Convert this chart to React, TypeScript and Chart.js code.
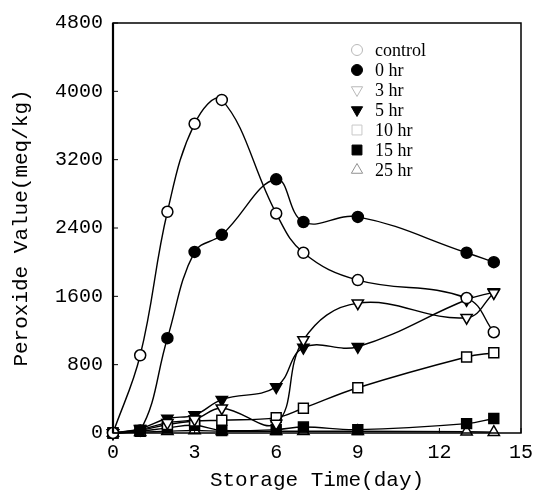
import React, { useEffect, useRef } from 'react';
import { Chart, registerables } from 'chart.js';
import { drawPoint } from 'chart.js/helpers';

Chart.register(...registerables);

// ---- data ----
const days = [0, 1, 2, 3, 4, 6, 7, 9, 13, 14];
const control = [0, 910, 2590, 3620, 3900, 2570, 2110, 1790, 1580, 1180];
const hr0 = [0, 30, 1110, 2120, 2320, 2970, 2470, 2530, 2110, 2000];
const hr3 = [0, 40, 120, 160, 290, 110, 1090, 1520, 1350, 1640];
const hr5 = [0, 50, 170, 210, 390, 540, 1000, 1010, 1560, 1650];
const hr10 = [0, 30, 100, 140, 150, 180, 290, 530, 890, 940];
const hr15 = [0, 20, 60, 90, 30, 40, 70, 40, 110, 170];
const hr25 = [0, 10, 20, 30, 20, 20, 20, 20, 15, 10];

const seriesNames = ['control', '0 hr', '3 hr', '5 hr', '10 hr', '15 hr', '25 hr'];
const xTicks = [0, 3, 6, 9, 12, 15];
const yTicks = [0, 800, 1600, 2400, 3200, 4000, 4800];
const xTitle = 'Storage Time(day)';
const yTitle = 'Peroxide Value(meq/kg)';

const seriesValues = [control, hr0, hr3, hr5, hr10, hr15, hr25];

type Style = { pointStyle: string; rotation: number; fill: string; radius: number; legendStroke: string };
const styles: Style[] = [
  { pointStyle: 'circle', rotation: 0, fill: '#ffffff', radius: 5.5, legendStroke: '#b8b8b8' },
  { pointStyle: 'circle', rotation: 0, fill: '#000000', radius: 5.5, legendStroke: '#000000' },
  { pointStyle: 'triangle', rotation: 180, fill: '#ffffff', radius: 6.5, legendStroke: '#b8b8b8' },
  { pointStyle: 'triangle', rotation: 180, fill: '#000000', radius: 6.5, legendStroke: '#000000' },
  { pointStyle: 'rect', rotation: 0, fill: '#ffffff', radius: 7, legendStroke: '#c8c8c8' },
  { pointStyle: 'rect', rotation: 0, fill: '#000000', radius: 7, legendStroke: '#000000' },
  { pointStyle: 'triangle', rotation: 0, fill: '#ffffff', radius: 6.5, legendStroke: '#909090' },
];

const frameAndLegend = {
  id: 'frameAndLegend',
  afterDraw(chart: any) {
    const { ctx, chartArea, scales } = chart;
    const { left, right, top, bottom } = chartArea;
    ctx.save();
    ctx.strokeStyle = '#000';
    ctx.lineWidth = 1.5;
    ctx.strokeRect(left, top, right - left, bottom - top);
    ctx.lineWidth = 2.2;
    ctx.beginPath();
    ctx.moveTo(left, top);
    ctx.lineTo(left, bottom);
    ctx.stroke();
    ctx.lineWidth = 1;
    yTicks.forEach((v) => {
      const py = scales.y.getPixelForValue(v);
      ctx.beginPath();
      ctx.moveTo(left, py);
      ctx.lineTo(left + 5, py);
      ctx.stroke();
    });
    xTicks.forEach((v) => {
      const px = scales.x.getPixelForValue(v);
      ctx.beginPath();
      ctx.moveTo(px, bottom);
      ctx.lineTo(px, bottom - 5);
      ctx.stroke();
    });
    // legend
    const mx = 357;
    const tx = 375;
    const y0 = 50;
    const dy = 20;
    ctx.font = '18px "Liberation Serif"';
    ctx.textBaseline = 'middle';
    ctx.textAlign = 'left';
    seriesNames.forEach((name, i) => {
      const s = styles[i];
      const py = y0 + i * dy;
      ctx.fillStyle = s.fill === '#000000' ? '#000' : '#fff';
      ctx.strokeStyle = s.legendStroke;
      drawPoint(ctx, { pointStyle: s.pointStyle as any, rotation: s.rotation, radius: s.radius, borderWidth: 1 }, mx, py);
      ctx.fillStyle = '#000';
      ctx.fillText(name, tx, py + 1);
    });
    ctx.restore();
  },
};

export default function App() {
  const ref = useRef<HTMLCanvasElement | null>(null);
  useEffect(() => {
    if (!ref.current) return;
    const datasets = seriesNames.map((name, i) => ({
      label: name,
      data: days.map((d, j) => ({ x: d, y: seriesValues[i][j] })),
      borderColor: '#000',
      borderWidth: 1.4,
      backgroundColor: styles[i].fill,
      pointStyle: styles[i].pointStyle as any,
      rotation: styles[i].rotation,
      pointRadius: styles[i].radius,
      pointBorderWidth: 1.5,
      pointBorderColor: '#000',
      pointBackgroundColor: styles[i].fill,
      tension: 0.4,
      fill: false,
      clip: false as any,
    }));
    const chart = new Chart(ref.current, {
      type: 'line',
      data: { datasets },
      options: {
        animation: false,
        responsive: false,
        maintainAspectRatio: false,
        layout: { padding: { left: 0, top: 23, right: 13, bottom: 0 } },
        plugins: { legend: { display: false }, tooltip: { enabled: false } },
        scales: {
          x: {
            type: 'linear',
            min: 0,
            max: 15,
            afterBuildTicks: (s: any) => {
              s.ticks = xTicks.map((v) => ({ value: v }));
            },
            afterFit: (s: any) => {
              s.height = 61;
              s.paddingLeft = 0;
              s.paddingRight = 0;
            },
            grid: { display: false, drawTicks: false },
            border: { display: false },
            ticks: {
              color: '#000',
              font: { family: 'Liberation Mono', size: 20 },
              padding: 8,
              maxRotation: 0,
              callback: (v: any) => String(v),
            },
            title: {
              display: true,
              text: xTitle,
              color: '#000',
              font: { family: 'Liberation Mono', size: 21 },
              padding: { top: 0, bottom: 1 },
            },
          },
          y: {
            type: 'linear',
            min: 0,
            max: 4800,
            afterBuildTicks: (s: any) => {
              s.ticks = yTicks.map((v) => ({ value: v }));
            },
            afterFit: (s: any) => {
              s.width = 113;
              s.paddingTop = 0;
              s.paddingBottom = 0;
            },
            grid: { display: false, drawTicks: false },
            border: { display: false },
            ticks: {
              color: '#000',
              font: { family: 'Liberation Mono', size: 20 },
              padding: 10,
              callback: (v: any) => String(v),
            },
            title: {
              display: true,
              text: yTitle,
              color: '#000',
              font: { family: 'Liberation Mono', size: 21 },
              padding: { top: 9, bottom: 0 },
            },
          },
        },
      },
      plugins: [frameAndLegend],
    });
    return () => chart.destroy();
  }, []);
  return (
    <div style={{ position: 'fixed', left: 0, top: 0, width: 534, height: 494, background: '#fff' }}>
      <canvas ref={ref} width={534} height={494} style={{ width: 534, height: 494 }} />
    </div>
  );
}
